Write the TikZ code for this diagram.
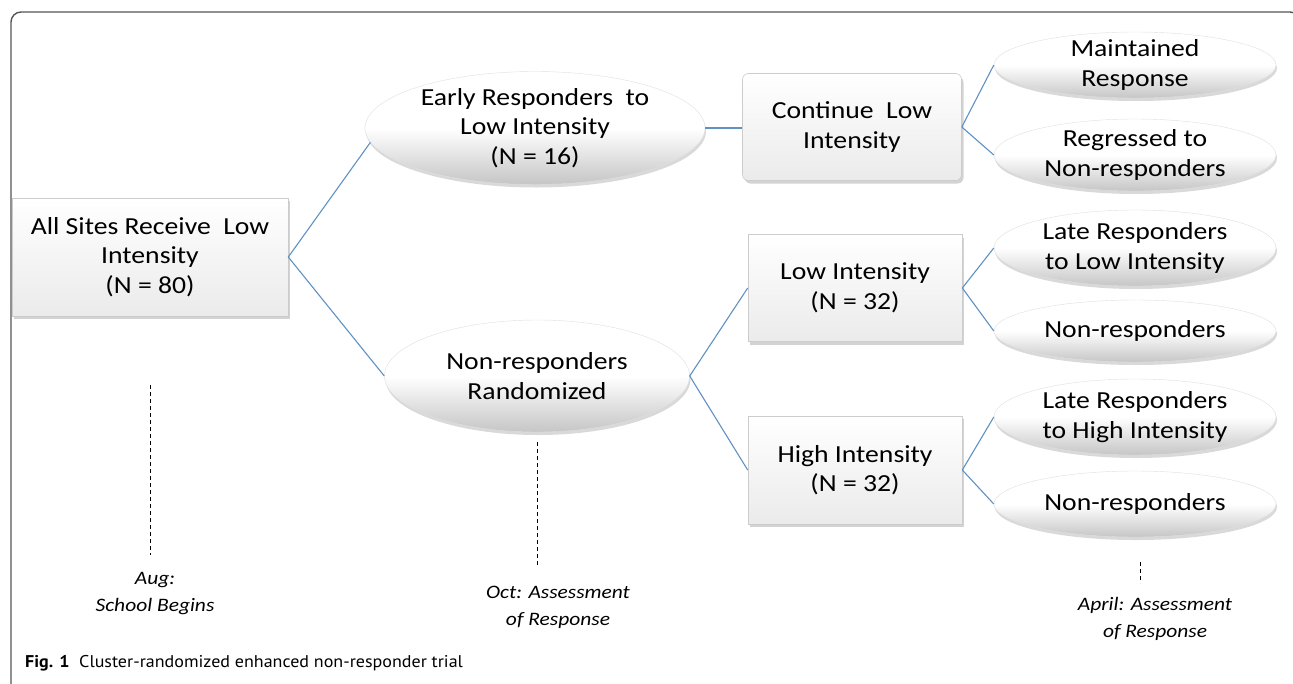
\documentclass[tikz,border=0pt]{standalone}
\usepackage{fontspec}
\setmainfont{Carlito}[FakeStretch=1.13]
\newfontfamily\capfont{PT Sans}[FakeStretch=1.06]
\usetikzlibrary{shapes.geometric,shadows}
\definecolor{linkblue}{RGB}{95,145,195}
\definecolor{framegray}{RGB}{85,85,85}
\begin{document}
\begin{tikzpicture}[x=1pt,y=-1pt,
  mainfont/.style={font=\fontsize{24.5}{29.5}\selectfont},
  boxnode/.style={draw=gray!40, line width=0.6pt, top color=white, bottom color=gray!16,
    drop shadow={shadow xshift=2pt,shadow yshift=-3pt,opacity=0.35}, inner sep=0pt},
  ellnode/.style={ellipse, draw=gray!25, line width=0.4pt, top color=white, bottom color=gray!45, middle color=white,
    drop shadow={shadow xshift=1pt,shadow yshift=-3pt,opacity=0.3}, inner sep=0pt},
  txt/.style={mainfont, align=center, inner sep=0pt},
  link/.style={draw=linkblue, line width=1.1pt},
  timeline/.style={line width=0.9pt, dash pattern=on 4pt off 3pt},
  tlabel/.style={font=\fontsize{19}{27}\selectfont\itshape, align=center, inner sep=0pt}]
\clip (0,0) rectangle (1293,683);
% frame
\draw[framegray, line width=1.4pt, rounded corners=10pt] (11,690) -- (11,12) -- (1300,12) -- (1300,60);
% boxes
\node[boxnode, minimum width=276pt, minimum height=118pt] (A) at (150,257) {};
\node[txt] (At) at (A) {All Sites Receive\ \ Low\\Intensity\\(N = 80)};
\node[ellnode, minimum width=340pt, minimum height=113pt] (E1) at (535,128) {};
\node[txt] (E1t) at (E1) {Early Responders\ \ to\\Low Intensity\\(N = 16)};
\node[ellnode, minimum width=305pt, minimum height=112pt] (E2) at (537,376) {};
\node[txt] (E2t) at (E2) {Non-responders\\Randomized};
\node[boxnode, rounded corners=6pt, minimum width=219pt, minimum height=107pt] (C) at (852,127) {};
\node[txt] (Ct) at (C) {Continue\ \ Low\\Intensity};
\node[boxnode, minimum width=214pt, minimum height=107pt] (L) at (855,288) {};
\node[txt] (Lt) at (L) {Low Intensity\\(N = 32)};
\node[boxnode, minimum width=214pt, minimum height=108pt] (H) at (855,470) {};
\node[txt] (Ht) at (H) {High Intensity\\(N = 32)};
% right ellipses
\foreach \n/\y/\h/\t in {M/65/66/{Maintained\\Response}, R/155/72/{Regressed to\\Non-responders},
  LL/248/76/{Late Responders\\to Low Intensity}, N1/331/62/{Non-responders},
  LH/417/76/{Late Responders\\to High Intensity}, N2/504/66/{Non-responders}}{
  \node[ellnode, minimum width=282pt, minimum height=\h pt] (\n) at (1135,\y) {};
  \node[txt] (\n t) at (\n) {\t};
}
% connectors
\draw[link] (A.east) -- (E1.185);
\draw[link] (A.east) -- (E2.west);
\draw[link] (E1.east) -- (C.west |- E1.east);
\draw[link] (E2.east) -- (L.west);
\draw[link] (E2.east) -- (H.west);
\draw[link] (C.east) -- (M.west);
\draw[link] (C.east) -- (R.west);
\draw[link] (L.east) -- (LL.west);
\draw[link] (L.east) -- (N1.west);
\draw[link] (H.east) -- (LH.west);
\draw[link] (H.east) -- (N2.west);
% timeline
\coordinate (t1a) at (150,385); \coordinate (t1b) at (150,555);
\coordinate (t2a) at (537,442); \coordinate (t2b) at (537,566);
\coordinate (t3a) at (1140,562); \coordinate (t3b) at (1140,583);
\draw[timeline] (t1a) -- (t1b);
\draw[timeline] (t2a) -- (t2b);
\draw[timeline] (t3a) -- (t3b);
\node[tlabel] (aug) at (155,594) {Aug:\\School Begins};
\node[tlabel] (oct) at (558,607) {Oct: Assessment\\of Response};
\node[tlabel] (apr) at (1155,619) {April: Assessment\\of Response};
% caption
\node[anchor=base west, inner sep=0pt, font=\capfont\fontsize{17}{20}\selectfont] (cap) at (25,667)
  {\textbf{Fig. 1}\ \ Cluster-randomized enhanced non-responder trial};
\end{tikzpicture}
\end{document}
